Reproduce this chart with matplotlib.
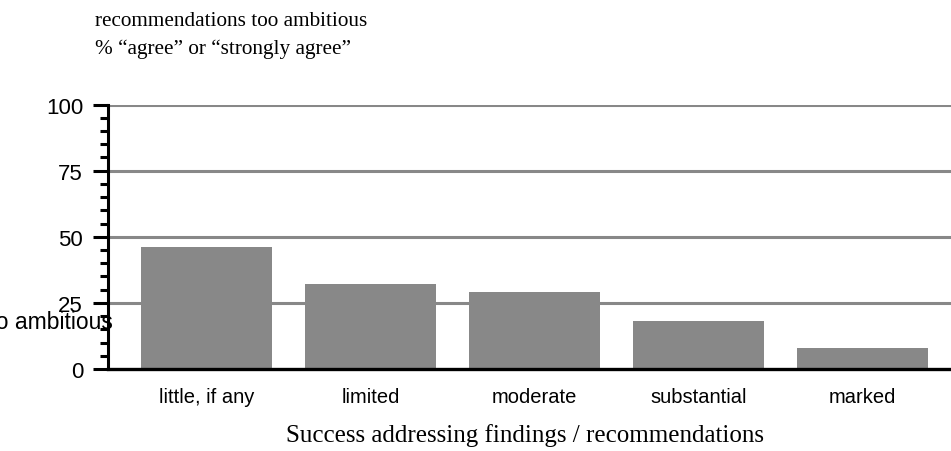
import numpy as np
import matplotlib.pyplot as plt

categories = ['little, if any', 'limited', 'moderate', 'substantial', 'marked']
agree_pct = [46, 32, 29, 18, 8]
yticks = [0, 25, 50, 75, 100]

W, H = 951, 452
fig = plt.figure(figsize=(W / 100, H / 100), dpi=100)
ax = fig.add_axes([108 / W, (H - 370) / H, (W - 108) / W, (370 - 105.5) / H])

x = np.arange(len(categories))
ax.bar(x, agree_pct, width=0.8, color='#888888', zorder=2)

ax.set_xlim(-0.6, 4.54)
ax.set_ylim(0, 100)
ax.set_yticks(yticks)
ax.set_yticks(np.arange(0, 101, 5), minor=True)
ax.set_xticks(x)
ax.set_xticklabels(categories, fontsize=14.5, family='Liberation Sans')
ax.set_yticklabels([str(v) for v in yticks], fontsize=16, family='Liberation Sans')

for v in yticks[1:]:
    ax.axhline(v, color='#888888', lw=2.2, zorder=1)

for s in ['top', 'right']:
    ax.spines[s].set_visible(False)
ax.spines['left'].set_linewidth(2.2)
ax.spines['bottom'].set_linewidth(2.4)
ax.spines['bottom'].set_zorder(3)

ax.tick_params(axis='y', which='major', length=11, width=2.2, pad=7)
ax.tick_params(axis='y', which='minor', length=5.5, width=2.2)
ax.tick_params(axis='x', length=0, pad=13)

fig.text(95 / W, 1 - 22 / H, 'recommendations too ambitious', family='Liberation Serif',
         fontsize=15.3, va='center', ha='left')
fig.text(95 / W, 1 - 49 / H, '% \u201cagree\u201d or \u201cstrongly agree\u201d', family='Liberation Serif',
         fontsize=15.3, va='center', ha='left')
# y label drawn horizontally, running off the left edge as in the original
fig.text(113 / W, 1 - 323 / H, 'recommendations too ambitious', family='Liberation Sans',
         fontsize=16.5, va='center', ha='right')
fig.text(525 / W, 1 - 436 / H, 'Success addressing findings / recommendations',
         family='Liberation Serif', fontsize=18, va='center', ha='center')

fig.savefig('out.png', dpi=100)
